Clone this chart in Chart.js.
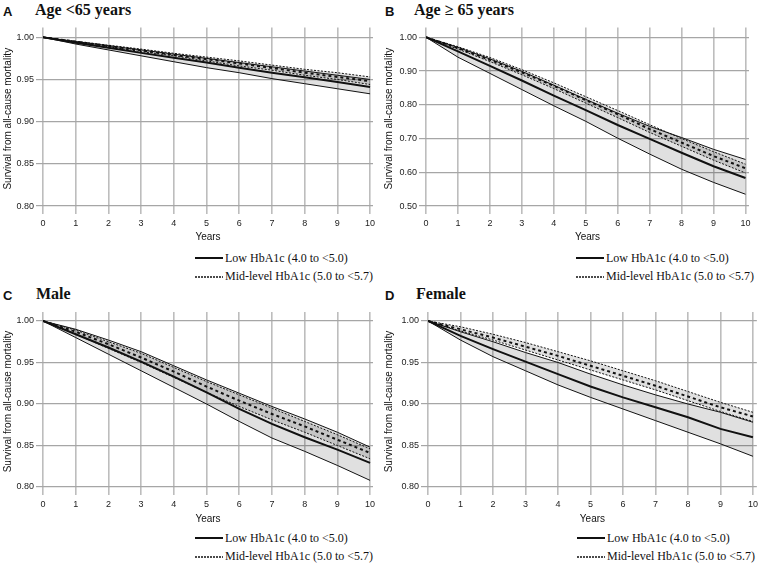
<!DOCTYPE html>
<html>
<head>
<meta charset="utf-8">
<script src="https://cdn.jsdelivr.net/npm/chart.js@4.4.1/dist/chart.umd.min.js"></script>
<style>
  body { margin: 0; background: #fff; }
  #page { position: relative; width: 762px; height: 565px; overflow: hidden; }
  .letter { position: absolute; font: bold 13px "Liberation Sans", Arial, sans-serif; color: #111; }
  .title { position: absolute; font: bold 16px "Liberation Serif", "Times New Roman", serif; color: #111; }
  canvas { position: absolute; }
  .leg { position: absolute; height: 16px; display: flex; align-items: center; white-space: nowrap;
         font: 12px "Liberation Serif", "Times New Roman", serif; color: #111; }
  .leg svg { margin-right: 2px; }
</style>
</head>
<body>
<div id="page">
  <div class="letter" style="left:3px;top:4px">A</div>
  <div class="title" style="left:35px;top:1px">Age &lt;65 years</div>
  <div class="letter" style="left:385px;top:4px">B</div>
  <div class="title" style="left:414px;top:1px">Age ≥ 65 years</div>
  <div class="letter" style="left:3px;top:288px">C</div>
  <div class="title" style="left:36px;top:285px">Male</div>
  <div class="letter" style="left:385px;top:288px">D</div>
  <div class="title" style="left:416px;top:285px">Female</div>

  <canvas id="chartA" width="381" height="225" style="left:0;top:20px"></canvas>
  <canvas id="chartB" width="381" height="225" style="left:381px;top:20px"></canvas>
  <canvas id="chartC" width="381" height="227" style="left:0;top:300px"></canvas>
  <canvas id="chartD" width="381" height="227" style="left:381px;top:300px"></canvas>
</div>
<script>
const years = [0, 1, 2, 3, 4, 5, 6, 7, 8, 9, 10];
const yTicksNarrow = [0.80, 0.85, 0.90, 0.95, 1.00];
const yTicksWide = [0.50, 0.60, 0.70, 0.80, 0.90, 1.00];
const legendLabels = ['Low HbA1c (4.0 to <5.0)', 'Mid-level HbA1c (5.0 to <5.7)'];

// A - age < 65
const lowA   = [1, 0.9935, 0.9875, 0.9815, 0.9758, 0.970, 0.964, 0.958, 0.9525, 0.947, 0.941];
const lowLoA = [1, 0.992, 0.985, 0.978, 0.971, 0.964, 0.958, 0.951, 0.945, 0.939, 0.933];
const lowHiA = [1, 0.995, 0.990, 0.985, 0.980, 0.975, 0.970, 0.965, 0.960, 0.955, 0.950];
const midA   = [1, 0.9948, 0.9896, 0.9844, 0.979, 0.974, 0.969, 0.9636, 0.958, 0.953, 0.948];
const midLoA = [1, 0.9944, 0.9888, 0.983, 0.978, 0.972, 0.966, 0.961, 0.955, 0.950, 0.944];
const midHiA = [1, 0.9953, 0.9906, 0.986, 0.981, 0.9765, 0.972, 0.967, 0.962, 0.958, 0.953];

// B - age >= 65
const lowB   = [1, 0.958, 0.915, 0.872, 0.827, 0.784, 0.740, 0.699, 0.658, 0.618, 0.583];
const lowLoB = [1, 0.941, 0.893, 0.845, 0.797, 0.751, 0.701, 0.654, 0.609, 0.570, 0.535];
const lowHiB = [1, 0.970, 0.936, 0.899, 0.858, 0.816, 0.775, 0.736, 0.703, 0.668, 0.638];
const midB   = [1, 0.968, 0.933, 0.896, 0.856, 0.814, 0.772, 0.728, 0.688, 0.648, 0.612];
const midLoB = [1, 0.965, 0.928, 0.889, 0.848, 0.805, 0.762, 0.718, 0.677, 0.636, 0.598];
const midHiB = [1, 0.972, 0.940, 0.904, 0.865, 0.824, 0.783, 0.741, 0.700, 0.661, 0.624];

// C - male
const lowC   = [1, 0.984, 0.968, 0.951, 0.933, 0.914, 0.894, 0.876, 0.860, 0.845, 0.829];
const lowLoC = [1, 0.980, 0.960, 0.940, 0.920, 0.900, 0.879, 0.859, 0.843, 0.826, 0.808];
const lowHiC = [1, 0.990, 0.977, 0.963, 0.946, 0.929, 0.913, 0.897, 0.882, 0.866, 0.848];
const midC   = [1, 0.987, 0.972, 0.956, 0.939, 0.921, 0.904, 0.888, 0.873, 0.857, 0.841];
const midLoC = [1, 0.984, 0.967, 0.950, 0.932, 0.914, 0.897, 0.881, 0.866, 0.850, 0.834];
const midHiC = [1, 0.989, 0.975, 0.961, 0.944, 0.927, 0.911, 0.895, 0.879, 0.863, 0.846];

// D - female
const lowD   = [1, 0.982, 0.966, 0.951, 0.936, 0.921, 0.908, 0.896, 0.884, 0.870, 0.860];
const lowLoD = [1, 0.977, 0.957, 0.940, 0.923, 0.908, 0.894, 0.880, 0.866, 0.852, 0.837];
const lowHiD = [1, 0.987, 0.975, 0.962, 0.950, 0.936, 0.923, 0.911, 0.900, 0.890, 0.878];
const midD   = [1, 0.990, 0.980, 0.969, 0.958, 0.946, 0.934, 0.922, 0.909, 0.896, 0.885];
const midLoD = [1, 0.988, 0.977, 0.965, 0.953, 0.941, 0.929, 0.917, 0.904, 0.891, 0.879];
const midHiD = [1, 0.993, 0.984, 0.974, 0.963, 0.952, 0.940, 0.928, 0.915, 0.902, 0.890];

const sans = '"Liberation Sans", Arial, sans-serif';
const bandFill = 'rgba(0,0,0,0.12)';

function pts(arr) {
  return years.map((x, i) => ({ x: x, y: arr[i] }));
}

function chart(id, series, p) {
  const ctx = document.getElementById(id).getContext('2d');
  const line = (arr, width, dash, fill) => ({
    data: pts(arr),
    borderColor: '#111',
    borderWidth: width,
    borderDash: dash,
    pointRadius: 0,
    tension: 0,
    fill: fill ? '+1' : false,
    backgroundColor: bandFill
  });

  new Chart(ctx, {
    type: 'line',
    data: {
      datasets: [
        line(series.lowLo, 1, [], true),
        line(series.lowHi, 1, [], false),
        line(series.midLo, 1, [2, 1.5], true),
        line(series.midHi, 1, [2, 1.5], false),
        line(series.low, 2, [], false),
        line(series.mid, 2, [3, 3], false)
      ]
    },
    options: {
      responsive: false,
      animation: false,
      devicePixelRatio: 1,
      layout: { padding: { top: p.padTop, right: p.padRight, left: 0, bottom: 0 } },
      plugins: {
        legend: { display: false },
        tooltip: { enabled: false },
        filler: { drawTime: 'beforeDatasetsDraw' }
      },
      scales: {
        x: {
          type: 'linear',
          min: 0,
          max: p.xMax,
          afterBuildTicks: s => { s.ticks = years.map(v => ({ value: v })); },
          afterFit: s => { s.height = p.xHeight; },
          border: { display: false },
          grid: { color: '#bdbdbd', lineWidth: 1.6, tickLength: 4 },
          ticks: { font: { family: sans, size: 9 }, color: '#222', padding: 4, maxRotation: 0, autoSkip: false },
          title: { display: true, text: 'Years', font: { family: sans, size: 10 }, color: '#111', padding: { top: 0, bottom: 2 } }
        },
        y: {
          min: p.yMin,
          max: p.yMax,
          afterBuildTicks: s => { s.ticks = p.yTicks.map(v => ({ value: v })); },
          afterFit: s => { s.width = p.yWidth; },
          border: { display: false },
          grid: { color: '#a6a6a6', lineWidth: 1.2, tickLength: 7 },
          ticks: { font: { family: sans, size: 9 }, color: '#222', padding: 2, callback: v => v.toFixed(2) },
          title: { display: true, text: 'Survival from all-cause mortality', font: { family: sans, size: 10 }, color: '#111', padding: 2 }
        }
      }
    }
  });
}

function legend(left, top) {
  const page = document.getElementById('page');
  const dashes = ['', '2,1'];
  legendLabels.forEach((label, i) => {
    const row = document.createElement('div');
    row.className = 'leg';
    row.style.left = left + 'px';
    row.style.top = (top + i * 18.5) + 'px';
    row.innerHTML = '<svg width="28" height="4"><line x1="0" y1="2" x2="28" y2="2" stroke="#111" stroke-width="' +
      (i === 0 ? 2 : 1.3) + '" stroke-dasharray="' + dashes[i] + '"/></svg>';
    const span = document.createElement('span');
    span.textContent = label;
    row.appendChild(span);
    page.appendChild(row);
  });
}

chart('chartA', { low: lowA, lowLo: lowLoA, lowHi: lowHiA, mid: midA, midLo: midLoA, midHi: midHiA },
  { padTop: 5, padRight: 8, yWidth: 43, xHeight: 35, xMax: 10.09, yMin: 0.7953, yMax: 1.0117, yTicks: yTicksNarrow });
chart('chartB', { low: lowB, lowLo: lowLoB, lowHi: lowHiB, mid: midB, midLo: midLoB, midHi: midHiB },
  { padTop: 5, padRight: 13, yWidth: 45, xHeight: 35, xMax: 10.11, yMin: 0.4883, yMax: 1.0292, yTicks: yTicksWide });
chart('chartC', { low: lowC, lowLo: lowLoC, lowHi: lowHiC, mid: midC, midLo: midLoC, midHi: midHiC },
  { padTop: 12, padRight: 8, yWidth: 43, xHeight: 36, xMax: 10.09, yMin: 0.7952, yMax: 1.0108, yTicks: yTicksNarrow });
chart('chartD', { low: lowD, lowLo: lowLoD, lowHi: lowHiD, mid: midD, midLo: midLoD, midHi: midHiD },
  { padTop: 12, padRight: 5, yWidth: 47, xHeight: 36, xMax: 10.12, yMin: 0.7952, yMax: 1.0108, yTicks: yTicksNarrow });

legend(195, 250);
legend(576, 250);
legend(195, 530);
legend(577, 530);
</script>
</body>
</html>
